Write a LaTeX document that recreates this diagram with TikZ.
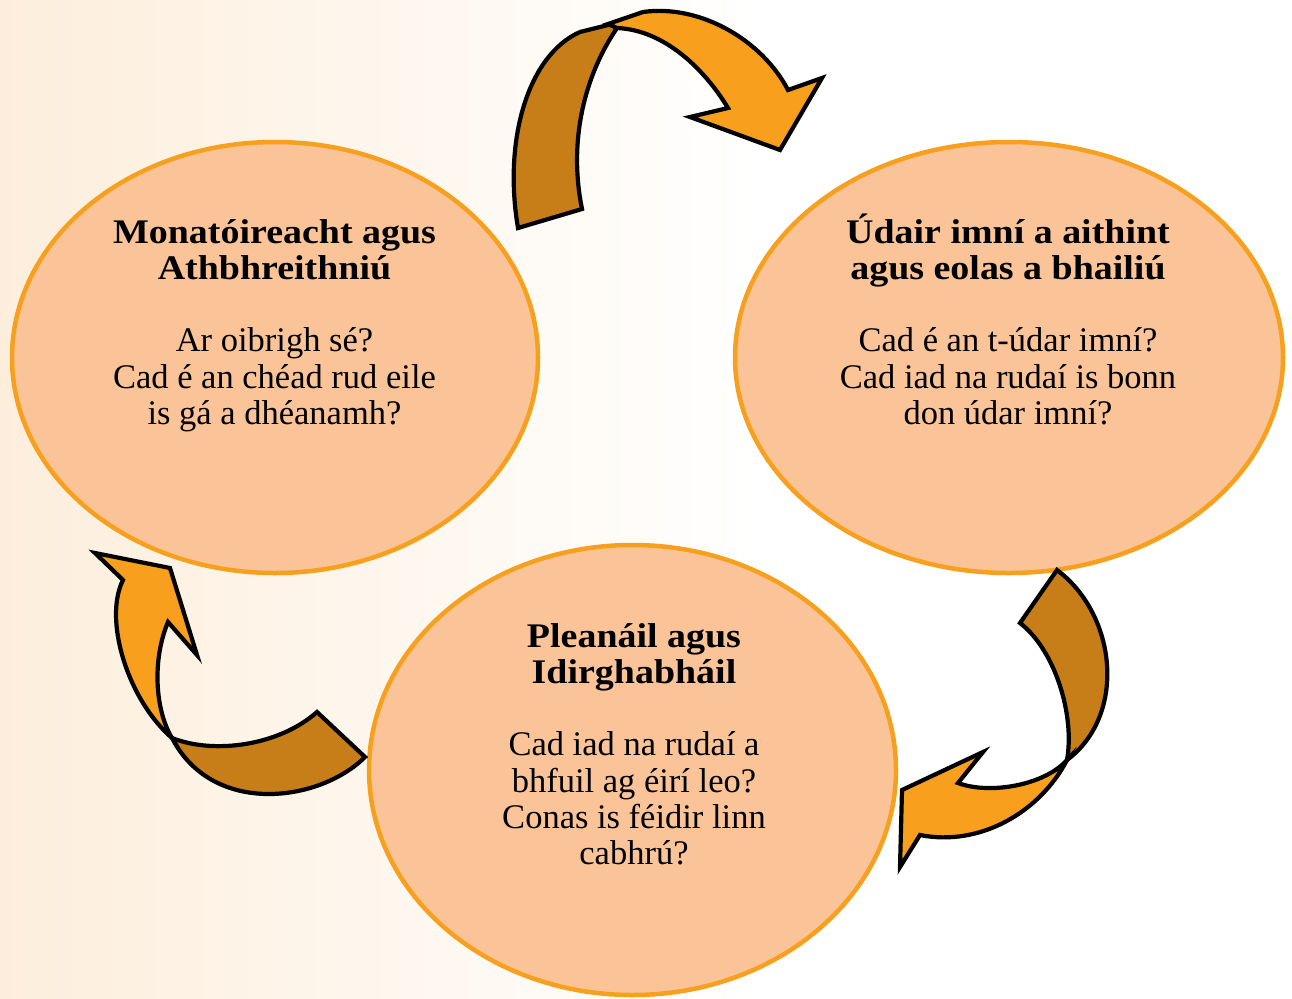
\documentclass[tikz,border=0pt]{standalone}
\usepackage{fontspec}
\setmainfont{Liberation Serif}
\newfontfamily\hdfont[FakeStretch=1.1]{Liberation Serif}
\usetikzlibrary{shapes.geometric}
\definecolor{bgpeach}{RGB}{253,238,220}
\definecolor{ellfill}{RGB}{251,196,152}
\definecolor{ellline}{RGB}{247,160,30}
\definecolor{arrlight}{RGB}{248,159,30}
\definecolor{arrdark}{RGB}{200,126,24}
\tikzset{
  stage/.style={ellipse, draw=ellline, line width=4.5pt, fill=ellfill, inner sep=0pt, outer sep=0pt},
  stagetext/.style={anchor=base, inner sep=0pt, font=\fontsize{34.5}{36.3}\selectfont},
  backpart/.style={fill=arrdark, draw=black, line width=4.2pt, line join=miter},
  frontpart/.style={fill=arrlight, draw=black, line width=4.2pt, line join=miter},
}
\newcommand{\hd}[1]{{\hdfont\bfseries #1}}
\begin{document}
\begin{tikzpicture}[x=1pt, y=-1pt]
\useasboundingbox (0,0) rectangle (1292,998);
% background
\shade[left color=bgpeach, right color=white] (0,0) rectangle (760,998);
\fill[white] (760,0) rectangle (1292,998);

% ellipses
\node[stage, minimum width=526pt, minimum height=431pt] (mon) at (275,357.5) {};
\node[stage, minimum width=548pt, minimum height=431pt] (uda) at (1009,357.5) {};
\node[stage, minimum width=527pt, minimum height=450pt] (ple) at (632.5,770) {};

% texts
\node[stagetext] (monT) at (274.5,243) {\begin{tabular}[t]{@{}c@{}}
\hd{Monatóireacht agus}\\ \hd{Athbhreithniú}\\ \\
Ar oibrigh sé?\\ Cad é an chéad rud eile\\ is gá a dhéanamh?\end{tabular}};
\node[stagetext] (udaT) at (1008,243) {\begin{tabular}[t]{@{}c@{}}
\hd{Údair imní a aithint}\\ \hd{agus eolas a bhailiú}\\ \\
Cad é an t-údar imní?\\ Cad iad na rudaí is bonn\\ don údar imní?\end{tabular}};
\node[stagetext] (pleT) at (634,647) {\begin{tabular}[t]{@{}c@{}}
\hd{Pleanáil agus}\\ \hd{Idirghabháil}\\ \\
Cad iad na rudaí a\\ bhfuil ag éirí leo?\\ Conas is féidir linn\\ cabhrú?\end{tabular}};

% top arrow (Monatóireacht -> Údair)
\path[backpart] (518,228) .. controls (503,140) and (528,55) .. (580,32)
  -- (612,24) -- (617,28) .. controls (585,75) and (568,140) .. (582,209) -- cycle;
\path[frontpart] (608,24) -- (643,12) .. controls (700,4) and (762,40) .. (788,90)
  -- (822,78) -- (780,150) -- (690,117) -- (728,108)
  .. controls (705,70) and (665,30) .. (617,28) -- cycle;

% right arrow (Údair -> Pleanáil)
\path[backpart] (1057,570) .. controls (1117,615) and (1127,715) .. (1067,760)
  .. controls (1075,715) and (1055,650) .. (1020,623) -- cycle;
\path[frontpart] (1067,760) .. controls (1040,812) and (980,847) .. (920,835)
  -- (900,867) -- (902,790) -- (983,752) -- (958,783)
  .. controls (990,795) and (1045,785) .. (1067,760) -- cycle;

% left arrow (Pleanáil -> Monatóireacht)
\path[backpart] (365,757) .. controls (320,802) and (213,817) .. (172,738)
  .. controls (215,755) and (280,745) .. (317,712) -- cycle;
\path[frontpart] (172,738) .. controls (128,700) and (103,620) .. (123,580)
  -- (95,553) -- (170,568) -- (197,655) -- (168,622)
  .. controls (152,660) and (155,710) .. (172,738) -- cycle;
\end{tikzpicture}
\end{document}
